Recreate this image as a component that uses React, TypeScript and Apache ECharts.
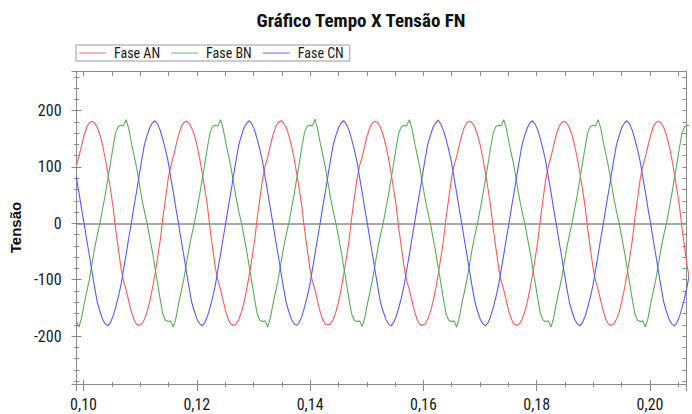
import React, { useEffect, useRef } from "react";
import * as echarts from "echarts";

const TITLE = "Gráfico Tempo X Tensão FN";
const SERIES_NAMES = ["Fase AN", "Fase BN", "Fase CN"];
const SERIES_COLORS = ["#ff5a5a", "#5aae5a", "#5a5aff"];
const Y_AXIS_NAME = "Tensão";

// Axis ranges (s, V)
const X_MIN = 0.09877;
const X_MAX = 0.20644;
const Y_MIN = -285;
const Y_MAX = 270.3;

const SAMPLE_START = 0.0982593;
const SAMPLE_STEP = 1 / 2160;

const faseAN = [
  78, 102, 118, 138, 157, 171, 179,
  181, 178, 170, 157, 139, 116, 90, 61, 30, -10, -44, -78, -102, -118, -138, -157, -171, -179, -181, -178, -170, -157, -139, -116, -90, -61, -30, 10, 44, 78, 102, 118, 138, 157, 171, 179,
  181, 178, 169, 157, 139, 116, 90, 61, 31, -10, -44, -78, -101, -118, -137, -157, -171, -179, -181, -178, -170, -157, -139, -116, -90, -61, -30, 10, 44, 78, 102, 118, 138, 157, 171, 179,
  182, 178, 170, 157, 139, 116, 90, 61, 30, -10, -44, -78, -102, -118, -138, -157, -171, -179, -180, -178, -170, -157, -139, -116, -90, -61, -30, 10, 44, 78, 102, 118, 138, 157, 171, 179,
  181, 178, 170, 157, 139, 116, 90, 61, 30, -10, -44, -78, -102, -118, -138, -157, -171, -179, -181, -178, -170, -157, -139, -116, -90, -61, -30, 10, 44, 78, 102, 118, 138, 157, 171, 179,
  181, 178, 170, 157, 139, 116, 90, 61, 30, -10, -44, -78, -102, -118, -138, -157, -171, -179, -181, -178, -170, -157, -139, -116, -90, -61, -30, 10, 44, 78, 102, 118, 138, 157, 171, 179,
  181, 178, 170, 157, 139, 116, 90, 61, 30, -10, -44, -78, -102, -118, -138, -157, -171, -179, -181, -178, -170, -157, -139, -116, -90, -61, -30, 10, 44, 78, 102, 118, 138, 157, 171, 179,
  181, 178, 170, 157, 139, 116, 90, 61, 30, -10, -44, -78, -102,
];

const faseBN = [
  -174, -173, -184, -168, -143, -121, -99, -71, -44, -21, 0, 25, 50, 78, 106, 135, 161, 172, 174,
  173, 184, 168, 143, 121, 99, 71, 44, 21, 0, -25, -50, -78, -106, -135, -161, -172, -174, -173, -184, -168, -143, -121, -99, -71, -44, -21, 0, 25, 50, 78, 106, 135, 161, 172, 174,
  173, 184, 168, 143, 121, 99, 71, 44, 21, 0, -25, -50, -78, -106, -135, -161, -172, -174, -173, -184, -168, -143, -121, -99, -71, -44, -21, 0, 25, 50, 78, 106, 135, 161, 172, 174,
  173, 185, 168, 143, 121, 99, 71, 44, 21, 0, -25, -50, -78, -106, -135, -161, -172, -174, -173, -183, -168, -143, -121, -99, -71, -44, -21, 0, 25, 50, 78, 106, 135, 161, 172, 174,
  173, 184, 168, 143, 121, 99, 71, 44, 21, 0, -25, -50, -78, -106, -135, -161, -172, -174, -173, -184, -168, -143, -121, -99, -71, -44, -21, 0, 25, 50, 78, 106, 135, 161, 172, 174,
  173, 184, 168, 143, 121, 99, 71, 44, 21, 0, -25, -50, -78, -106, -135, -161, -172, -174, -173, -184, -168, -143, -121, -99, -71, -44, -21, 0, 25, 50, 78, 106, 135, 161, 172, 174,
  173, 184, 168, 143, 121, 99, 71, 44, 21, 0, -25, -50, -78, -106, -135, -161, -172, -174, -173, -184, -168, -143, -121, -99, -71, -44, -21, 0, 25, 50, 78, 106, 135, 161, 172, 174,
  173,
];

const faseCN = [
  110, 82, 55, 26, -1, -30, -57, -86, -114, -140, -156, -170, -178, -182, -176, -165, -149, -131, -110, -82, -55, -26, 1, 30, 57, 86, 114, 140, 156, 170, 178,
  182, 176, 165, 149, 131, 110, 82, 55, 26, -1, -30, -57, -86, -114, -140, -156, -170, -178, -182, -176, -165, -149, -131, -110, -82, -55, -26, 1, 30, 57, 86, 114, 140, 156, 170, 178,
  182, 176, 165, 149, 131, 110, 82, 55, 26, -1, -30, -57, -86, -114, -140, -156, -170, -178, -181, -176, -165, -149, -131, -110, -82, -55, -26, 1, 30, 57, 86, 114, 140, 156, 170, 178,
  182, 176, 165, 149, 131, 110, 82, 55, 26, -1, -30, -57, -86, -114, -140, -156, -170, -178, -182, -176, -165, -149, -131, -110, -82, -55, -26, 1, 30, 57, 86, 114, 140, 156, 170, 178,
  183, 176, 165, 149, 131, 110, 82, 55, 26, -1, -30, -57, -86, -114, -140, -156, -170, -178, -182, -176, -165, -149, -131, -110, -82, -55, -26, 1, 30, 57, 86, 114, 140, 156, 170, 178,
  182, 176, 165, 149, 131, 110, 82, 55, 26, -1, -30, -57, -86, -114, -140, -156, -170, -178, -182, -176, -165, -149, -131, -110, -82, -55, -26, 1, 30, 57, 86, 114, 140, 156, 170, 178,
  182, 176, 165, 149, 131, 110, 82, 55, 26, -1, -30, -57, -86, -114, -140, -156, -170, -178, -182, -176, -165, -149, -131, -110, -82,
];

const SERIES_VALUES = [faseAN, faseBN, faseCN];

const NARROW = "'Liberation Sans Narrow', 'Arial Narrow', 'Roboto Condensed', 'DejaVu Sans Condensed', sans-serif";
const REGULAR = "'Liberation Sans', Arial, sans-serif";
const AXIS_GRAY = "#8c8c8c";
const TEXT = "#1a1a1a";

const fmtX = (v: number) => v.toFixed(2).replace(".", ",");

export default function App() {
  const ref = useRef<HTMLDivElement>(null);

  useEffect(() => {
    if (!ref.current) return;
    const chart = echarts.init(ref.current, null, { renderer: "svg" });

    const xBase = { type: "value" as const, min: X_MIN, max: X_MAX, splitNumber: 5, splitLine: { show: false } };
    const yBase = { type: "value" as const, min: Y_MIN, max: Y_MAX, splitNumber: 5, splitLine: { show: false } };

    const series = SERIES_VALUES.map((vals, s) => ({
      name: SERIES_NAMES[s],
      type: "line",
      xAxisIndex: 0,
      yAxisIndex: 0,
      symbol: "none",
      showSymbol: false,
      smooth: false,
      color: SERIES_COLORS[s],
      lineStyle: { width: 1.1, color: SERIES_COLORS[s] },
      data: vals.map((v, i) => [SAMPLE_START + i * SAMPLE_STEP, v]),
      z: 3,
      ...(s === 0
        ? {
            markLine: {
              silent: true,
              symbol: "none",
              label: { show: false },
              lineStyle: { color: "#8c8c8c", width: 1.5, type: "solid" },
              data: [{ yAxis: 0 }],
              z: 2,
            },
          }
        : {}),
    }));

    chart.setOption({
      animation: false,
      backgroundColor: "#ffffff",
      title: {
        text: TITLE,
        left: 361,
        top: 11,
        padding: 0,
        textAlign: "center",
        textStyle: { fontFamily: NARROW, fontWeight: "bold", fontSize: 19, color: "#111" },
      },
      legend: {
        data: SERIES_NAMES,
        left: 76,
        top: 45,
        padding: [1, 6, 1, 3],
        itemGap: 11,
        itemWidth: 27,
        itemHeight: 1.5,
        icon: "rect",
        itemStyle: { opacity: 0.6 },
        borderColor: "#9a9a9a",
        borderWidth: 1,
        borderRadius: 0,
        backgroundColor: "#ffffff",
        textStyle: { fontFamily: NARROW, fontSize: 14, color: TEXT, padding: [0, 0, 0, 3] },
      },
      grid: { left: 76, right: 5.5, top: 71, bottom: 30, containLabel: false, show: false },
      xAxis: [
        {
          ...xBase,
          position: "bottom",
          axisLine: { show: true, onZero: false, lineStyle: { color: AXIS_GRAY } },
          axisTick: { show: true, inside: false, length: 7, lineStyle: { color: AXIS_GRAY } },
          minorTick: { show: true, splitNumber: 4, length: 3, lineStyle: { color: AXIS_GRAY } },
          axisLabel: {
            fontFamily: NARROW,
            fontSize: 16,
            color: TEXT,
            margin: 12,
            showMinLabel: false,
            showMaxLabel: false,
            formatter: fmtX,
          },
        },
        {
          ...xBase,
          position: "bottom",
          axisLine: { show: false, onZero: false },
          axisTick: { show: true, inside: true, length: 4, lineStyle: { color: AXIS_GRAY } },
          minorTick: { show: true, splitNumber: 4, length: 2, lineStyle: { color: AXIS_GRAY } },
          axisLabel: { show: false },
        },
        {
          ...xBase,
          position: "top",
          axisLine: { show: true, onZero: false, lineStyle: { color: AXIS_GRAY } },
          axisTick: { show: true, inside: true, length: 5, lineStyle: { color: AXIS_GRAY } },
          minorTick: { show: true, splitNumber: 4, length: 5, lineStyle: { color: AXIS_GRAY } },
          axisLabel: { show: false },
        },
      ],
      yAxis: [
        {
          ...yBase,
          position: "left",
          name: Y_AXIS_NAME,
          nameLocation: "middle",
          nameRotate: 90,
          nameGap: 47,
          nameTextStyle: { fontFamily: REGULAR, fontWeight: "bold", fontSize: 15, color: "#111" },
          axisLine: { show: true, onZero: false, lineStyle: { color: AXIS_GRAY } },
          axisTick: { show: true, inside: false, length: 5, lineStyle: { color: AXIS_GRAY } },
          minorTick: { show: true, splitNumber: 5, length: 2.5, lineStyle: { color: AXIS_GRAY } },
          axisLabel: {
            fontFamily: NARROW,
            fontSize: 16,
            color: TEXT,
            margin: 15,
            showMinLabel: false,
            showMaxLabel: false,
          },
        },
        {
          ...yBase,
          position: "left",
          axisLine: { show: false, onZero: false },
          axisTick: { show: true, inside: true, length: 5, lineStyle: { color: AXIS_GRAY } },
          minorTick: { show: true, splitNumber: 5, length: 2.5, lineStyle: { color: AXIS_GRAY } },
          axisLabel: { show: false },
        },
        {
          ...yBase,
          position: "right",
          axisLine: { show: true, onZero: false, lineStyle: { color: AXIS_GRAY } },
          axisTick: { show: true, inside: true, length: 4, lineStyle: { color: AXIS_GRAY } },
          minorTick: { show: true, splitNumber: 5, length: 4, lineStyle: { color: AXIS_GRAY } },
          axisLabel: { show: false },
        },
      ],
      series,
    });

    return () => chart.dispose();
  }, []);

  return (
    <div
      ref={ref}
      style={{ position: "fixed", left: 0, top: 0, width: 692, height: 414, background: "#fff" }}
    />
  );
}
